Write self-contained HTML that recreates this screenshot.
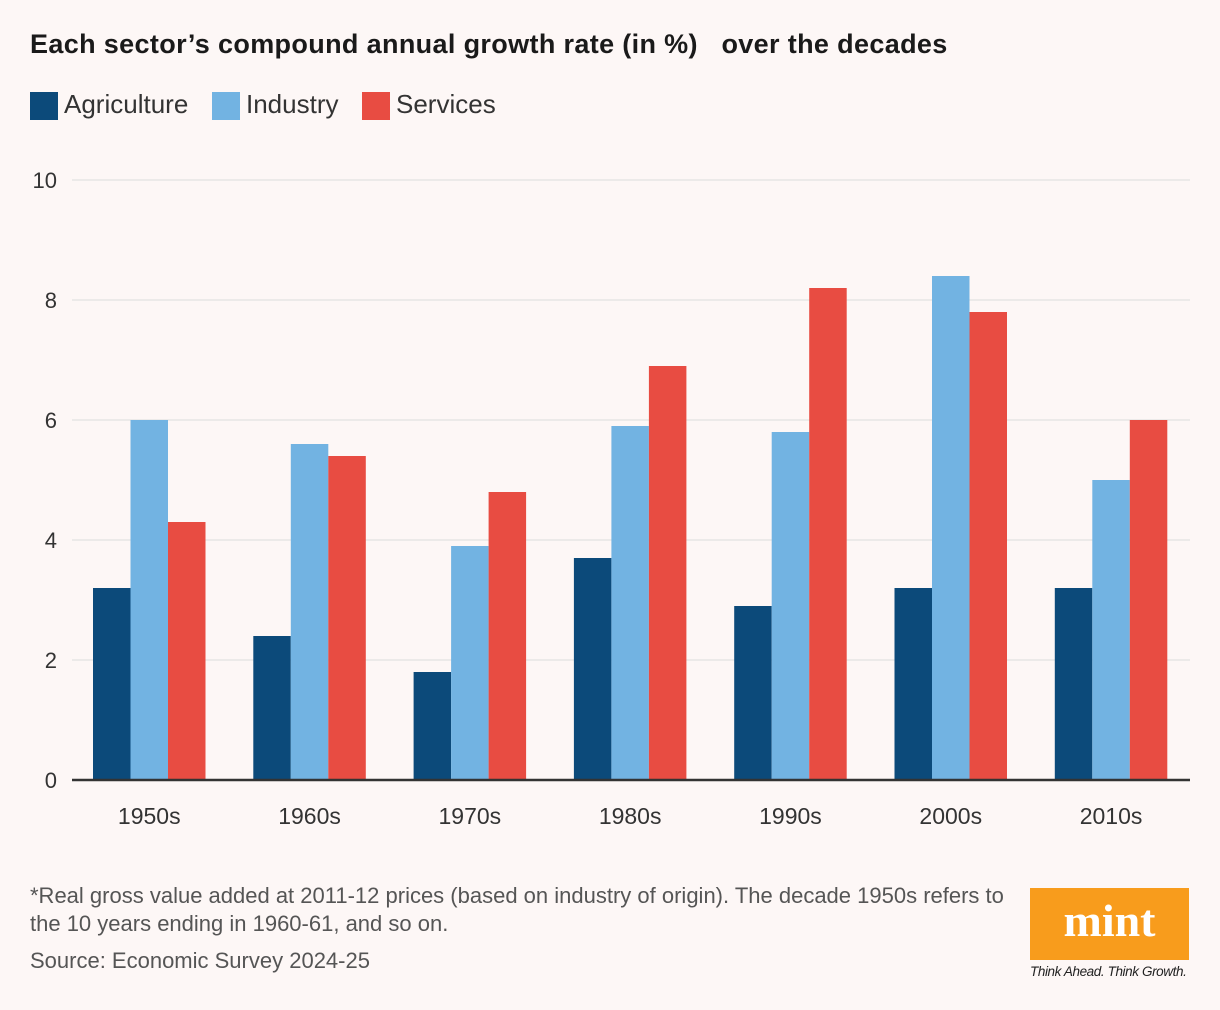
<!DOCTYPE html>
<html><head><meta charset="utf-8">
<style>
html,body{margin:0;padding:0;background:#fdf7f6;}
body{width:1220px;height:1010px;position:relative;overflow:hidden;font-family:"Liberation Sans",sans-serif;color:#222;}
.t{position:absolute;white-space:nowrap;}
</style></head><body>
<div class="t" style="left:30px;top:29px;font-size:27px;font-weight:bold;letter-spacing:0.35px;color:#1a1a1a;">Each sector’s compound annual growth rate (in %)&nbsp;&nbsp; over the decades</div>
<div>
<div style="position:absolute;left:30px;top:92px;width:28px;height:28px;background:#0c4a7a"></div>
<div class="t" style="left:64px;top:89px;font-size:26px;color:#333">Agriculture</div>
<div style="position:absolute;left:212px;top:92px;width:28px;height:28px;background:#72b3e2"></div>
<div class="t" style="left:246px;top:89px;font-size:26px;color:#333">Industry</div>
<div style="position:absolute;left:362px;top:92px;width:28px;height:28px;background:#e84c42"></div>
<div class="t" style="left:396px;top:89px;font-size:26px;color:#333">Services</div>
</div>
<svg id="chart" width="1220" height="860" style="position:absolute;left:0;top:0"></svg>
<div class="t" style="left:30px;top:882px;font-size:22px;line-height:28px;color:#555">*Real gross value added at 2011-12 prices (based on industry of origin). The decade 1950s refers to<br>the 10 years ending in 1960-61, and so on.</div>
<div class="t" style="left:30px;top:948px;font-size:22px;color:#555">Source: Economic Survey 2024-25</div>
<div style="position:absolute;left:1030px;top:888px;width:159px;height:72px;background:#f89c1c;color:#fff;font-family:'Liberation Serif',serif;font-weight:bold;font-size:46px;text-align:center;line-height:66px;">mint</div>
<div class="t" style="left:1030px;top:964px;font-size:13.5px;font-style:italic;color:#222;letter-spacing:-0.4px">Think Ahead. Think Growth.</div>
<script>
const categories=["1950s","1960s","1970s","1980s","1990s","2000s","2010s"];
const agriculture=[3.2,2.4,1.8,3.7,2.9,3.2,3.2];
const industry=[6.0,5.6,3.9,5.9,5.8,8.4,5.0];
const services=[4.3,5.4,4.8,6.9,8.2,7.8,6.0];
const yTicks=[0,2,4,6,8,10];
const svg=document.getElementById('chart');
const NS='http://www.w3.org/2000/svg';
const y=v=>780-v*60;
const gx=i=>93+i*160.3;
const bw=37.5;
function mk(tag,attrs){const e=document.createElementNS(NS,tag);for(const k in attrs)e.setAttribute(k,attrs[k]);svg.appendChild(e);return e;}
yTicks.forEach(t=>{
 if(t>0){const l=mk('line',{x1:72,x2:1190,y1:y(t),y2:y(t),stroke:'#dcdcdc','stroke-width':1});
 
 }
 const tx=mk('text',{x:57,y:y(t)+8,'text-anchor':'end','font-size':22,fill:'#333','font-family':'Liberation Sans, sans-serif'});
 tx.textContent=t;
 
 
});
const series=[[agriculture,'#0c4a7a','agriculture'],[industry,'#72b3e2','industry'],[services,'#e84c42','services']];
categories.forEach((c,i)=>{
 series.forEach((s,j)=>{
  const v=s[0][i];
  const r=mk('rect',{x:gx(i)+j*bw,y:y(v),width:bw,height:y(0)-y(v),fill:s[1]});
  
  
 });
 const tx=mk('text',{x:gx(i)+1.5*bw,y:824,'text-anchor':'middle','font-size':23,fill:'#333','font-family':'Liberation Sans, sans-serif'});
 tx.textContent=c;
 
 
});
const ax=mk('line',{x1:72,x2:1190,y1:780,y2:780,stroke:'#333','stroke-width':2.5});


</script>
</body></html>
